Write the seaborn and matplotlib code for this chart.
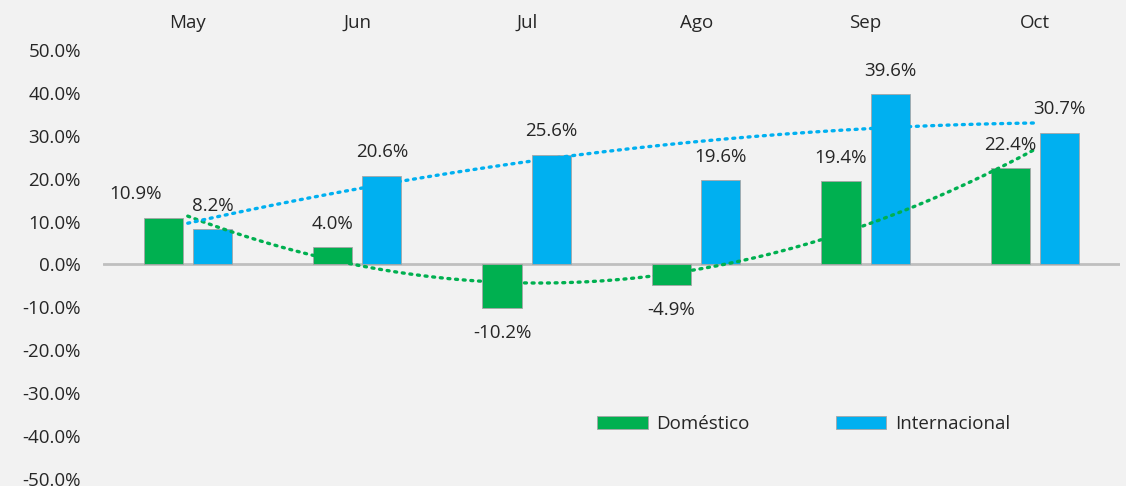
import numpy as np
import pandas as pd
import matplotlib
matplotlib.use("Agg")
import matplotlib.pyplot as plt
import seaborn as sns
from matplotlib.patches import Patch

# Data
months = ["May", "Jun", "Jul", "Ago", "Sep", "Oct"]
domestico = [10.9, 4.0, -10.2, -4.9, 19.4, 22.4]
internacional = [8.2, 20.6, 25.6, 19.6, 39.6, 30.7]
series_names = ["Doméstico", "Internacional"]
colors = ["#00b050", "#00b0f0"]

df = pd.DataFrame({
    "month": months * 2,
    "value": domestico + internacional,
    "series": [series_names[0]] * len(months) + [series_names[1]] * len(months),
})

sns.set_style("white")
plt.rcParams["font.family"] = ["Open Sans", "DejaVu Sans"]
fs = 13.5

fig = plt.figure(figsize=(11.26, 4.86), dpi=100, facecolor="#f2f2f2")
ax = fig.add_axes([0.0915, 0.0144, 0.903, 0.883])
ax.set_facecolor("#f2f2f2")

sns.barplot(data=df, x="month", y="value", hue="series", palette=colors,
            saturation=1, width=0.58, gap=0.2, edgecolor="#a6a6a6",
            linewidth=0.6, legend=False, ax=ax, zorder=2)

# zero line
ax.axhline(0, color="#bfbfbf", lw=2, zorder=1)

# polynomial trend lines (order 2)
xs = np.arange(len(months))
xx = np.linspace(0, len(months) - 1, 200)
for vals, c in zip([domestico, internacional], colors):
    coef = np.polyfit(xs, vals, 2)
    ax.plot(xx, np.polyval(coef, xx), color=c, lw=2.4, ls=(0, (0.6, 1.7)),
            dash_capstyle="round", zorder=3)

# data labels
shift = {(0, 0): -20}
for i, cont in enumerate(ax.containers):
    for j, bar in enumerate(cont):
        v = bar.get_height()
        cx = bar.get_x() + bar.get_width() / 2
        dx = shift.get((i, j), 0)
        off = 17 if v >= 0 else -18
        ax.annotate(f"{v:.1f}%", (cx, v), xytext=(dx, off),
                    textcoords="offset points", ha="center", va="center",
                    fontsize=fs, color="#262626", zorder=4)

ax.set_ylim(-50, 50)
ax.set_xlim(-0.5, len(months) - 0.5)
ax.set_yticks(np.arange(-50, 51, 10))
ax.set_yticklabels([f"{t:.1f}%" for t in np.arange(-50, 51, 10)])
ax.xaxis.tick_top()
ax.tick_params(axis="x", length=0, pad=13, labelsize=fs, labelcolor="#262626")
ax.tick_params(axis="y", length=0, pad=16, labelsize=fs, labelcolor="#262626")
ax.set_xlabel("")
ax.set_ylabel("")
for s in ax.spines.values():
    s.set_visible(False)

handles = [Patch(facecolor=c, edgecolor="#a6a6a6", linewidth=0.6) for c in colors]
ax.legend(handles, series_names, loc="center", bbox_to_anchor=(0.689, 0.128),
          ncol=2, frameon=False, fontsize=fs, handlelength=2.7,
          handleheight=0.62, columnspacing=4.6, handletextpad=0.45,
          labelcolor="#262626")

fig.savefig("out.png", dpi=100, facecolor=fig.get_facecolor())
